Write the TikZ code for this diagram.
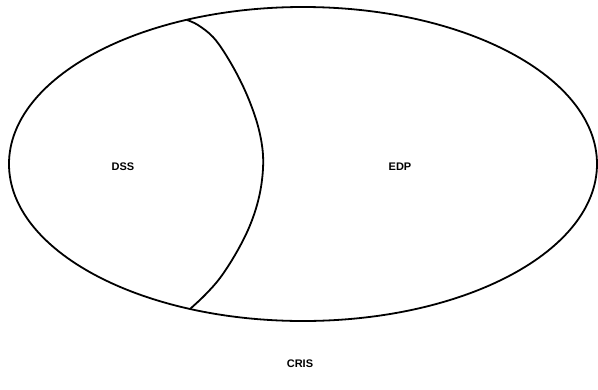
\documentclass[tikz,border=0pt]{standalone}
\usepackage{fontspec}
\setmainfont{Liberation Sans}
\begin{document}
\begin{tikzpicture}[x=1pt,y=-1pt,
  outline/.style={draw=black,line width=1.8pt},
  split/.style={draw=black,line width=1.8pt,line join=round,line cap=round},
  label/.style={font=\fontsize{11}{13}\selectfont\bfseries}]

\useasboundingbox (0,0) rectangle (598,389);

% Outer system boundary.
\draw[outline] (303,164) ellipse (294 and 157);

% Dividing line between the two parts.
\coordinate (top) at (187,20);
\coordinate (bottom) at (190,309);
\draw[split] plot[smooth,tension=.6] coordinates
  {(top) (198,25) (213,37) (226,55) (240,80) (251,105) (259,130)
   (263,155) (262,180) (257,205) (248,230) (235,255) (220,278)
   (205,295) (bottom)};

\node[label] (dss) at (123,167) {DSS};
\node[label] (edp) at (400,167) {EDP};
\node[label] (cris) at (300,364) {CRIS};
\end{tikzpicture}
\end{document}
